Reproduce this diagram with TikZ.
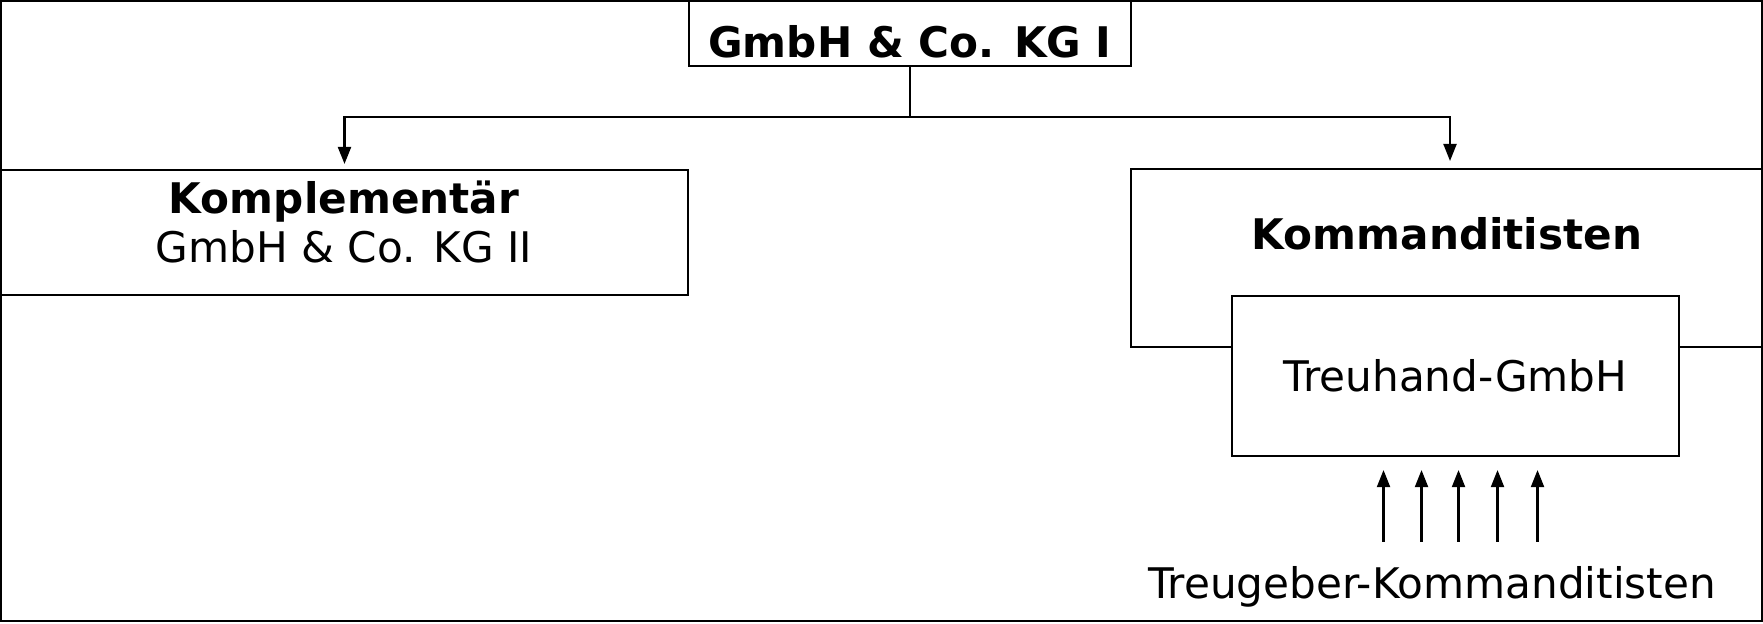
\documentclass[tikz,border=0pt]{standalone}
\usepackage{fontspec}
\setmainfont{DejaVu Sans}
\usetikzlibrary{arrows.meta, calc, positioning}
\newlength{\pxu}
\setlength{\pxu}{0.02cm}

\begin{document}
\fontsize{24}{29}\selectfont
\begin{tikzpicture}[x=0.02cm, y=-0.02cm, line width=1.2pt,
  box/.style={rectangle, draw, inner sep=0pt},
  lbl/.style={inner sep=0pt, anchor=base},
  arr/.style={-{Triangle[length=0.34cm, width=0.26cm]}}]
\useasboundingbox (0,0) rectangle (1763,623);
% outer frame
\draw[line width=1.3pt] (1,1) rectangle (1762,621);

% boxes
\node[box, font=\bfseries, minimum width=442\pxu, minimum height=65\pxu, text height=0.96cm, text depth=0pt] (kg1) at (910,33.5) {GmbH \& Co. KG I};
\node[box, minimum width=687\pxu, minimum height=125\pxu] (kompl) at (344.5,232.5) {};
\node[box, minimum width=631\pxu, minimum height=178\pxu] (komm) at (1446.5,258) {};
\node[box, fill=white, minimum width=447\pxu, minimum height=160\pxu] (treuhand) at (1455.5,376) {Treuhand-GmbH};

% texts
\node[lbl, font=\bfseries] (komplhead) at (344,213) {Komplementär};
\node[lbl] (komplname) at (344,262) {GmbH \& Co. KG II};
\node[lbl, font=\bfseries] (kommhead) at (1447,249) {Kommanditisten};
\node[lbl] (treugeber) at (1432,598) {Treugeber-Kommanditisten};

% connectors
\draw (kg1.south) -- ++(0,50) coordinate (fork);
\draw[arr, shorten >=5\pxu] (fork) -| (kompl.north);
\draw[arr, shorten >=7\pxu] (fork) -| ($(komm.north)+(3.5,0)$);
\foreach \dx in {-72,-34,3,42,82}
  \draw[arr, shorten <=23\pxu, shorten >=13\pxu] ($(treuhand.south |- treugeber.north)+(\dx,0)$) -- ($(treuhand.south)+(\dx,0)$);
\end{tikzpicture}
\end{document}
